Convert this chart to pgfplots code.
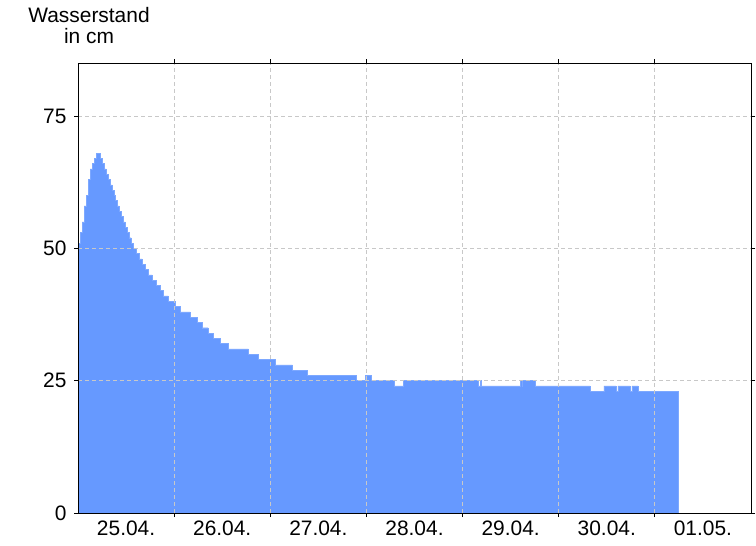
\documentclass[border=0pt]{standalone}
\usepackage{pgfplots}
\pgfplotsset{compat=1.18}
\usepackage{fontspec}
\setmainfont{Liberation Sans}
\definecolor{fillblue}{RGB}{102,153,255}
\definecolor{gridgray}{RGB}{200,200,200}
\begin{document}
\begin{tikzpicture}
\begin{axis}[
  at={(0,0)}, anchor=south west,
  scale only axis, width=673bp, height=450bp,
  xmin=0, xmax=168, ymin=0, ymax=85,
  xtick={24,48,72,96,120,144}, xticklabels={},
  extra x ticks={12,36,60,84,108,132,156},
  extra x tick labels={25.04.,26.04.,27.04.,28.04.,29.04.,30.04.,01.05.},
  extra x tick style={grid=none, major tick length=0pt},
  ytick={0,25,50,75},
  grid=major,
  major grid style={gridgray, dash pattern=on 4bp off 3bp, line width=0.8bp},
  tick align=outside, major tick length=4bp,
  tick style={black, line width=0.8bp},
  axis line style={line width=1bp},
  x tick label style={font=\fontsize{21}{22}\selectfont, yshift=-4bp},
  y tick label style={font=\fontsize{21}{22}\selectfont, xshift=-4bp},
  /pgf/number format/assume math mode=true,
  axis on top,
  clip=true,
]
\addplot[const plot, fill=fillblue, draw=fillblue!85!white, line width=0.4bp] coordinates {
(0,51) (0.5,53) (1,55) (1.5,58) (2,60) (2.5,63) (3,65) (3.5,66) (4,67) (4.5,68)
(5.5,67) (6,66) (6.5,65) (7,64) (7.5,63) (8,62) (8.5,61) (9,60) (9.25,59) (9.75,58)
(10.25,57) (10.75,56) (11.25,55) (11.75,54) (12.25,53) (12.75,52) (13.25,51) (13.75,50)
(14.5,49) (15.25,48) (16,47) (16.75,46) (17.5,45) (18.5,44) (19.5,43) (20.5,42)
(21.25,41) (22.5,40) (24.25,39) (25.5,38) (28,37) (29.75,36) (31,35) (32.5,34)
(33.75,33) (35.5,32) (37.5,31) (42.5,30) (45,29) (49.25,28) (53.5,27) (57.25,26)
(69.5,25) (71.75,26) (73.25,25) (79,24) (81.25,25) (100,24) (100.4,25) (100.75,24)
(110.5,25) (110.8,24) (111,25) (114.25,24) (127.75,23) (131.25,24) (134.25,23) (134.75,24)
(137.75,23) (138.25,24) (139.75,23) (149.75,23)
} \closedcycle;
\end{axis}
\node[align=center, font=\fontsize{21}{21}\selectfont, anchor=north] at (11bp,509bp) {Wasserstand\\in cm};
\useasboundingbox (-78bp,-33bp) rectangle (678bp,513bp);
\end{tikzpicture}
\end{document}
